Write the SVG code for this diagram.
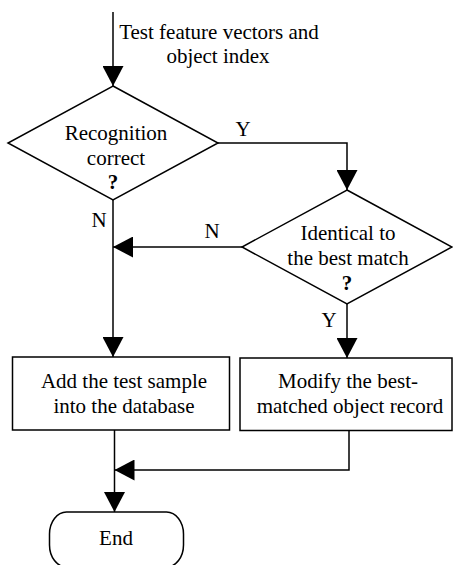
<svg xmlns="http://www.w3.org/2000/svg" width="453" height="565" viewBox="0 0 453 565">
  <style>
    .shape { fill: #fff; stroke: #000; stroke-width: 1.5; }
    .link { fill: none; stroke: #000; stroke-width: 1.5; marker-end: url(#ah); }
    .lbl { font-family: 'Liberation Serif', 'Times New Roman', serif; font-size: 21px; fill: #000; text-anchor: middle; }
    .q { font-weight: bold; }
  </style>
  <defs>
    <marker id="ah" markerWidth="20" markerHeight="21" refX="20" refY="10.5" orient="auto" markerUnits="userSpaceOnUse">
      <path d="M0,0 L20,10.5 L0,21 Z" fill="#000"/>
    </marker>
  </defs>
  <rect width="453" height="565" fill="#fff"/>

  <!-- connectors and their labels -->
  <g id="connectors">
    <path class="link" d="M113,12 V86"/>
    <path class="link" d="M218,143 H347 V190"/>
    <path class="link" d="M113,200 V357"/>
    <path class="link" d="M242,247 H113"/>
    <path class="link" d="M347,304 V358"/>
    <path class="link" d="M114.5,430 V512"/>
    <path class="link" d="M349,431 V470 H114.5"/>
    <text class="lbl" x="219" y="39">Test feature vectors and</text>
    <text class="lbl" x="218" y="63">object index</text>
    <text class="lbl" x="243" y="136">Y</text>
    <text class="lbl" x="99" y="227">N</text>
    <text class="lbl" x="212" y="238">N</text>
    <text class="lbl" x="329" y="327">Y</text>
  </g>

  <!-- decision: recognition correct -->
  <g id="decision-recognition">
    <polygon class="shape" points="113,86 218,143 113,200 8,143"/>
    <text class="lbl" x="116" y="140">Recognition</text>
    <text class="lbl" x="116" y="165">correct</text>
    <text class="lbl q" x="113" y="189">?</text>
  </g>

  <!-- decision: identical to best match -->
  <g id="decision-identical">
    <polygon class="shape" points="347,190 452,247 347,304 242,247"/>
    <text class="lbl" x="348" y="240">Identical to</text>
    <text class="lbl" x="348" y="265">the best match</text>
    <text class="lbl q" x="347" y="290">?</text>
  </g>

  <!-- process: add sample -->
  <g id="process-add">
    <rect class="shape" x="12.5" y="357" width="217" height="73"/>
    <text class="lbl" x="124" y="388">Add the test sample</text>
    <text class="lbl" x="124" y="413">into the database</text>
  </g>

  <!-- process: modify record -->
  <g id="process-modify">
    <rect class="shape" x="240" y="358" width="212" height="72.5"/>
    <text class="lbl" x="348" y="388">Modify the best-</text>
    <text class="lbl" x="350" y="413">matched object record</text>
  </g>

  <!-- terminal: end -->
  <g id="terminal-end">
    <rect class="shape" x="49.5" y="512" width="134" height="55" rx="17" ry="22"/>
    <text class="lbl" x="116" y="545">End</text>
  </g>
</svg>
